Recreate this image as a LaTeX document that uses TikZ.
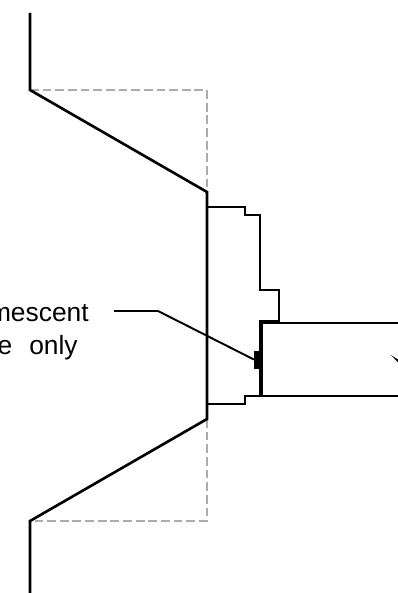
\documentclass[tikz,border=0pt]{standalone}
\usepackage{fontspec}
\setmainfont{Liberation Sans}
\tikzset{
  wall/.style={line width=1.5pt,line join=miter},
  thinwall/.style={line width=1.1pt},
  hidden/.style={line width=0.7pt,gray!65,dash pattern=on 5pt off 2.2pt},
  caption/.style={anchor=base east,inner sep=0pt,font=\fontsize{15}{17}\selectfont}
}
\begin{document}
\begin{tikzpicture}[x=0.2mm,y=-0.2mm]
      \useasboundingbox (0,0) rectangle (398,593);

      \draw [hidden] (30,90) -- (207,90) -- (207,192);
      \draw [hidden] (207,419) -- (207,521) -- (30,521);

      \draw [wall] (30,13) -- (30,90) -- (207,192) -- (207,419) -- (30,521) -- (30,593);

      \draw [thinwall] (207,207) -- (245,207) -- (245,215) -- (260,215) -- (260,290) -- (279,290) -- (279,322);
      \draw [thinwall] (207,404) -- (245,404) -- (245,396) -- (261,396);

      \draw [wall] (398,323) -- (262,323) -- (262,396) -- (398,396);
      \draw [wall] (279,321) -- (260,321) -- (260,396);

      \node [draw,fill=black,inner sep=0pt,minimum width=3.2pt,minimum height=9.6pt] (tag) at (257,359.5) {};
      \fill (391,355) -- (398,359.5) -- (398,362.5) -- cycle;

      \node [caption] (line1) at (89,321.5) {mescent};
      \node [caption] (line2) at (78,354) {ne\hspace{5.5pt} only};

      \coordinate (leadstart) at (114,311);
      \coordinate (leadbend) at (158,311);
      \draw [thinwall] (leadstart) -- (leadbend) -- (tag.west);
\end{tikzpicture}
\end{document}
